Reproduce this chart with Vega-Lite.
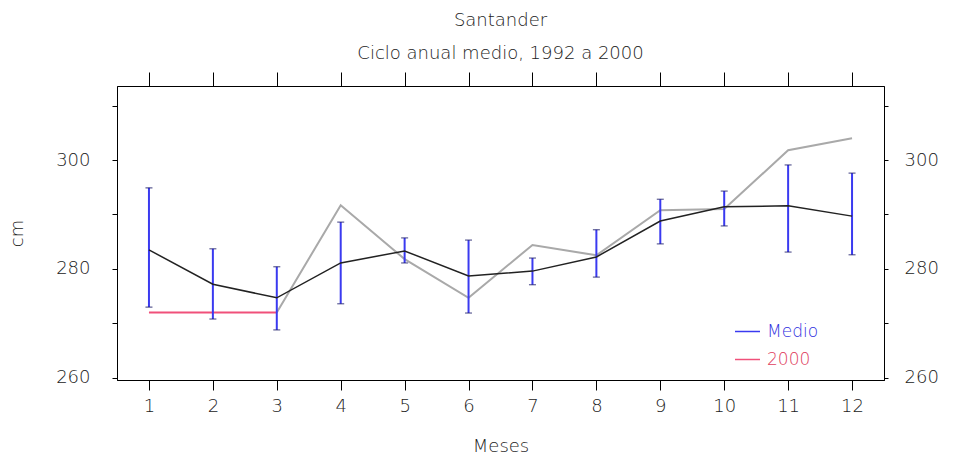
{
  "$schema": "https://vega.github.io/schema/vega-lite/v6.json",
  "autosize": "none",
  "width": 767,
  "height": 294,
  "padding": {"left": 117, "top": 86, "right": 70, "bottom": 81},
  "background": "white",
  "title": {
    "text": "Santander",
    "subtitle": "Ciclo anual medio, 1992 a 2000",
    "anchor": "middle",
    "font": "DejaVu Sans",
    "fontSize": 18,
    "fontWeight": 300,
    "color": "#222222",
    "subtitleFont": "DejaVu Sans",
    "subtitleFontSize": 18,
    "subtitleFontWeight": 300,
    "subtitleColor": "#222222",
    "subtitlePadding": 15,
    "offset": 9
  },
  "config": {
    "view": {"stroke": "#000000", "strokeWidth": 1},
    "axis": {
      "grid": false,
      "domainColor": "#000000",
      "tickColor": "#000000",
      "labelFont": "DejaVu Sans",
      "labelFontSize": 18,
      "labelFontWeight": 300,
      "labelColor": "#222222",
      "titleFont": "DejaVu Sans",
      "titleFontSize": 18,
      "titleFontWeight": 300,
      "titleColor": "#222222"
    }
  },
  "data": {
    "values": [
      {"mes": 1, "media": 283.5, "lo": 273.0, "hi": 294.9, "y2000": 272.0},
      {"mes": 2, "media": 277.2, "lo": 270.8, "hi": 283.7, "y2000": 272.0},
      {"mes": 3, "media": 274.7, "lo": 268.8, "hi": 280.4, "y2000": 272.0},
      {"mes": 4, "media": 281.1, "lo": 273.6, "hi": 288.6, "y2000": 291.7},
      {"mes": 5, "media": 283.3, "lo": 281.1, "hi": 285.7, "y2000": 281.8},
      {"mes": 6, "media": 278.7, "lo": 271.9, "hi": 285.3, "y2000": 274.7},
      {"mes": 7, "media": 279.6, "lo": 277.1, "hi": 282.0, "y2000": 284.4},
      {"mes": 8, "media": 282.2, "lo": 278.5, "hi": 287.2, "y2000": 282.5},
      {"mes": 9, "media": 288.8, "lo": 284.6, "hi": 292.8, "y2000": 290.8},
      {"mes": 10, "media": 291.4, "lo": 287.9, "hi": 294.3, "y2000": 291.0},
      {"mes": 11, "media": 291.6, "lo": 283.1, "hi": 299.1, "y2000": 301.8},
      {"mes": 12, "media": 289.7, "lo": 282.6, "hi": 297.6, "y2000": 304.0}
    ]
  },
  "resolve": {"axis": {"x": "independent", "y": "independent"}},
  "layer": [
    {
      "transform": [{"filter": "datum.mes >= 3"}],
      "mark": {"type": "line", "color": "#a9a9a9", "strokeWidth": 2},
      "encoding": {
        "x": {
          "field": "mes", "type": "quantitative",
          "scale": {"domain": [0.5, 12.5], "nice": false, "zero": false},
          "axis": {"orient": "bottom", "values": [1,2,3,4,5,6,7,8,9,10,11,12], "format": "d",
                   "tickSize": 10, "labelPadding": 7, "title": "Meses", "titlePadding": 22, "domain": true}
        },
        "y": {
          "field": "y2000", "type": "quantitative",
          "scale": {"domain": [259.6, 313.6], "nice": false, "zero": false},
          "axis": {"orient": "left", "values": [260,270,280,290,300,310],
                   "labelExpr": "datum.value % 20 == 0 ? datum.label : ''",
                   "tickSize": 5, "labelPadding": 22, "title": "cm", "titlePadding": 29, "domain": true}
        }
      }
    },
    {
      "transform": [{"filter": "datum.mes <= 3"}],
      "mark": {"type": "line", "strokeWidth": 2},
      "encoding": {
        "x": {
          "field": "mes", "type": "quantitative",
          "axis": {"orient": "top", "values": [1,2,3,4,5,6,7,8,9,10,11,12],
                   "labels": false, "tickSize": 14, "domain": false, "title": null}
        },
        "y": {
          "field": "y2000", "type": "quantitative",
          "axis": {"orient": "right", "values": [260,270,280,290,300,310],
                   "labelExpr": "datum.value % 20 == 0 ? datum.label : ''",
                   "tickSize": 4, "labelPadding": 16, "title": null, "domain": true}
        },
        "color": {
          "datum": "2000",
          "scale": {"domain": ["Medio", "2000"], "range": ["#3a3af0", "#f0507a"]},
          "legend": {
            "orient": "none",
            "legendX": 617,
            "legendY": 232,
            "title": null,
            "symbolType": "stroke",
            "symbolSize": 625,
            "symbolStrokeWidth": 1.5,
            "labelFont": "DejaVu Sans",
            "labelFontSize": 17,
            "labelFontWeight": 300,
            "rowPadding": 6,
            "labelOffset": 6,
            "encode": {
              "labels": {"update": {"fill": {"signal": "datum.label == 'Medio' ? '#3030e0' : '#e04060'"}}}
            }
          }
        }
      }
    },
    {
      "mark": {"type": "rule", "strokeWidth": 2},
      "encoding": {
        "x": {"field": "mes", "type": "quantitative", "axis": null},
        "y": {"field": "lo", "type": "quantitative", "axis": null},
        "y2": {"field": "hi"},
        "color": {"datum": "Medio"}
      }
    },
    {
      "mark": {"type": "tick", "orient": "horizontal", "size": 7, "thickness": 1.2, "color": "#1a1a66"},
      "encoding": {
        "x": {"field": "mes", "type": "quantitative", "axis": null},
        "y": {"field": "hi", "type": "quantitative", "axis": null}
      }
    },
    {
      "mark": {"type": "tick", "orient": "horizontal", "size": 7, "thickness": 1.2, "color": "#1a1a66"},
      "encoding": {
        "x": {"field": "mes", "type": "quantitative", "axis": null},
        "y": {"field": "lo", "type": "quantitative", "axis": null}
      }
    },
    {
      "mark": {"type": "line", "color": "#222222", "strokeWidth": 1.5},
      "encoding": {
        "x": {"field": "mes", "type": "quantitative", "axis": null},
        "y": {"field": "media", "type": "quantitative", "axis": null}
      }
    }
  ]
}
